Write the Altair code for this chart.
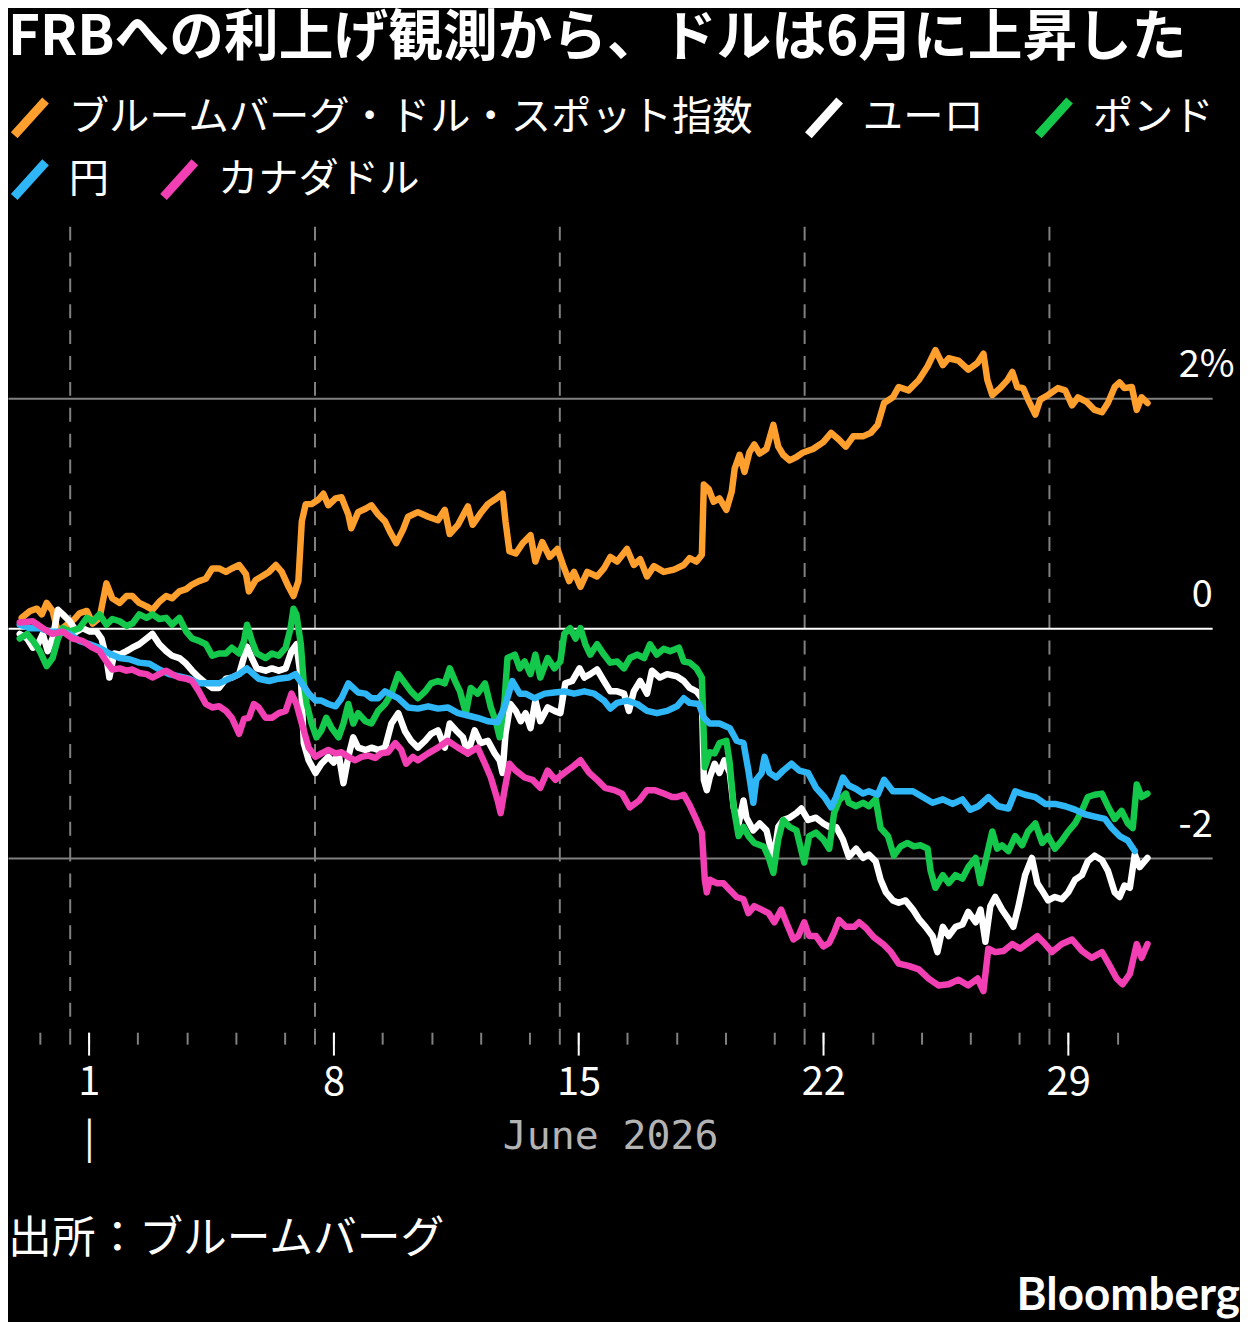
import altair as alt
import pandas as pd

TITLE = "FRBへの利上げ観測から、ドルは6月に上昇した"
SOURCE = "出所：ブルームバーグ"
BRAND = "Bloomberg"
X_TITLE = "June 2026"

series_names = ["ブルームバーグ・ドル・スポット指数", "ユーロ", "ポンド", "円", "カナダドル"]
series_colors = ["#ff9f2e", "#ffffff", "#14c84b", "#2fb6f6", "#f23fb4"]

# (business-day index since the week of June 1 began, % change)
usd_index = [(-0.98, 0.09), (-0.81, 0.15), (-0.67, 0.17), (-0.57, 0.12), (-0.47, 0.22), (-0.35, 0.15), (-0.24, -0.03), (-0.06, 0.03), (0.10, 0.08), (0.20, 0.13), (0.35, 0.15), (0.47, 0.04), (0.61, 0.09), (0.75, 0.39), (0.87, 0.26), (1.02, 0.22), (1.16, 0.28), (1.28, 0.28), (1.42, 0.22), (1.57, 0.19), (1.69, 0.16), (1.83, 0.23), (1.97, 0.28), (2.09, 0.26), (2.24, 0.32), (2.38, 0.34), (2.50, 0.38), (2.64, 0.41), (2.78, 0.43), (2.91, 0.52), (3.05, 0.52), (3.19, 0.49), (3.31, 0.52), (3.46, 0.55), (3.60, 0.47), (3.66, 0.32), (3.80, 0.42), (3.92, 0.45), (4.07, 0.49), (4.21, 0.55), (4.33, 0.49), (4.47, 0.36), (4.57, 0.28), (4.67, 0.41), (4.74, 0.93), (4.82, 1.08), (4.94, 1.08), (5.08, 1.12), (5.18, 1.17), (5.28, 1.07), (5.43, 1.13), (5.55, 1.14), (5.69, 0.99), (5.75, 0.87), (5.89, 1.01), (6.04, 1.04), (6.16, 1.07), (6.30, 0.99), (6.44, 0.93), (6.54, 0.84), (6.67, 0.74), (6.81, 0.86), (6.91, 0.97), (7.11, 1.01), (7.32, 0.97), (7.52, 0.94), (7.66, 1.03), (7.76, 0.82), (7.93, 0.90), (8.13, 1.06), (8.23, 0.90), (8.39, 1.00), (8.54, 1.08), (8.68, 1.12), (8.84, 1.17), (8.90, 0.93), (8.98, 0.67), (9.11, 0.65), (9.25, 0.74), (9.41, 0.81), (9.51, 0.58), (9.65, 0.75), (9.80, 0.62), (9.96, 0.69), (10.10, 0.52), (10.20, 0.41), (10.30, 0.49), (10.43, 0.36), (10.57, 0.49), (10.77, 0.45), (10.91, 0.52), (11.04, 0.62), (11.18, 0.58), (11.38, 0.69), (11.52, 0.55), (11.65, 0.60), (11.79, 0.45), (11.93, 0.54), (12.13, 0.49), (12.34, 0.51), (12.54, 0.55), (12.66, 0.61), (12.80, 0.58), (12.91, 0.64), (12.95, 1.25), (13.05, 1.21), (13.15, 1.10), (13.27, 1.13), (13.41, 1.03), (13.52, 1.19), (13.58, 1.39), (13.68, 1.51), (13.78, 1.36), (13.88, 1.53), (13.98, 1.60), (14.09, 1.52), (14.23, 1.56), (14.37, 1.77), (14.47, 1.58), (14.57, 1.51), (14.70, 1.46), (14.84, 1.49), (14.98, 1.53), (15.18, 1.56), (15.39, 1.62), (15.55, 1.70), (15.71, 1.64), (15.85, 1.58), (16.00, 1.67), (16.20, 1.67), (16.36, 1.70), (16.50, 1.77), (16.63, 1.96), (16.81, 2.01), (16.93, 2.10), (17.13, 2.07), (17.34, 2.16), (17.52, 2.28), (17.68, 2.42), (17.83, 2.29), (17.95, 2.35), (18.15, 2.33), (18.35, 2.25), (18.54, 2.31), (18.66, 2.39), (18.74, 2.16), (18.84, 2.03), (19.00, 2.09), (19.15, 2.16), (19.25, 2.23), (19.35, 2.10), (19.47, 2.09), (19.57, 1.99), (19.72, 1.86), (19.82, 1.99), (19.98, 2.03), (20.18, 2.09), (20.33, 2.07), (20.47, 1.94), (20.59, 2.01), (20.77, 1.97), (20.93, 1.90), (21.08, 1.88), (21.20, 1.96), (21.34, 2.10), (21.44, 2.14), (21.54, 2.09), (21.69, 2.10), (21.79, 1.90), (21.89, 2.01), (22.01, 1.96)]

eur = [(-1.02, -0.05), (-0.87, -0.09), (-0.75, -0.17), (-0.65, -0.14), (-0.55, -0.05), (-0.45, -0.20), (-0.35, -0.09), (-0.24, 0.16), (-0.14, 0.12), (0.0, 0.06), (0.14, -0.03), (0.26, 0.0), (0.41, -0.03), (0.55, -0.03), (0.65, -0.09), (0.75, -0.26), (0.81, -0.43), (0.91, -0.22), (1.02, -0.23), (1.16, -0.20), (1.28, -0.17), (1.42, -0.14), (1.57, -0.09), (1.69, -0.05), (1.83, -0.14), (1.97, -0.20), (2.09, -0.24), (2.24, -0.26), (2.38, -0.31), (2.50, -0.37), (2.64, -0.43), (2.78, -0.48), (2.91, -0.52), (3.05, -0.52), (3.19, -0.44), (3.31, -0.43), (3.46, -0.40), (3.62, -0.16), (3.72, -0.26), (3.82, -0.35), (4.00, -0.37), (4.13, -0.35), (4.27, -0.37), (4.41, -0.35), (4.53, -0.20), (4.63, -0.14), (4.72, -0.43), (4.78, -1.00), (4.88, -1.15), (5.02, -1.26), (5.14, -1.18), (5.28, -1.12), (5.39, -1.17), (5.49, -1.09), (5.59, -1.35), (5.69, -1.12), (5.79, -0.95), (5.89, -1.04), (6.04, -1.06), (6.16, -1.04), (6.30, -1.06), (6.44, -1.04), (6.57, -0.83), (6.71, -0.74), (6.85, -0.90), (6.97, -0.98), (7.11, -1.04), (7.26, -0.98), (7.38, -0.92), (7.52, -0.89), (7.66, -1.04), (7.76, -0.83), (7.89, -0.89), (8.03, -0.95), (8.13, -1.09), (8.27, -0.89), (8.39, -1.00), (8.54, -0.98), (8.68, -1.09), (8.78, -1.15), (8.84, -1.26), (8.90, -0.92), (9.00, -0.66), (9.11, -0.72), (9.21, -0.81), (9.31, -0.74), (9.41, -0.87), (9.51, -0.63), (9.61, -0.81), (9.76, -0.69), (9.90, -0.72), (10.02, -0.74), (10.12, -0.48), (10.26, -0.46), (10.41, -0.35), (10.51, -0.43), (10.63, -0.40), (10.77, -0.36), (10.91, -0.46), (11.04, -0.55), (11.18, -0.55), (11.32, -0.57), (11.42, -0.72), (11.52, -0.55), (11.65, -0.46), (11.79, -0.57), (11.89, -0.37), (12.05, -0.43), (12.20, -0.40), (12.40, -0.42), (12.54, -0.46), (12.66, -0.52), (12.80, -0.55), (12.91, -0.61), (12.95, -1.32), (13.01, -1.41), (13.07, -1.30), (13.17, -1.18), (13.27, -1.26), (13.37, -1.15), (13.48, -1.26), (13.56, -1.56), (13.66, -1.70), (13.76, -1.50), (13.82, -1.65), (13.96, -1.76), (14.09, -1.70), (14.23, -1.76), (14.37, -2.02), (14.47, -1.73), (14.57, -1.67), (14.70, -1.65), (14.84, -1.61), (14.94, -1.57), (15.08, -1.67), (15.24, -1.65), (15.39, -1.70), (15.51, -1.73), (15.65, -1.73), (15.79, -1.84), (15.91, -1.99), (16.06, -1.92), (16.20, -2.00), (16.32, -1.97), (16.46, -2.03), (16.56, -2.19), (16.67, -2.30), (16.81, -2.37), (16.93, -2.39), (17.07, -2.37), (17.22, -2.45), (17.34, -2.53), (17.48, -2.60), (17.62, -2.68), (17.72, -2.82), (17.83, -2.60), (17.95, -2.68), (18.09, -2.60), (18.23, -2.58), (18.35, -2.47), (18.50, -2.56), (18.60, -2.45), (18.70, -2.73), (18.80, -2.42), (18.90, -2.34), (19.04, -2.45), (19.17, -2.53), (19.27, -2.60), (19.37, -2.43), (19.51, -2.15), (19.65, -2.00), (19.76, -2.22), (19.88, -2.30), (19.98, -2.37), (20.12, -2.34), (20.26, -2.36), (20.39, -2.30), (20.53, -2.19), (20.67, -2.15), (20.79, -2.03), (20.93, -1.98), (21.08, -2.02), (21.20, -2.11), (21.34, -2.30), (21.44, -2.34), (21.54, -2.24), (21.65, -2.26), (21.75, -1.97), (21.85, -2.08), (21.95, -2.03), (22.01, -2.00)]

gbp = [(-1.02, -0.09), (-0.87, -0.05), (-0.75, -0.11), (-0.61, -0.20), (-0.47, -0.33), (-0.35, -0.26), (-0.24, -0.09), (-0.14, 0.0), (0.0, -0.03), (0.20, 0.0), (0.35, 0.09), (0.47, 0.06), (0.61, 0.12), (0.75, 0.03), (0.87, 0.08), (1.02, 0.06), (1.16, 0.02), (1.28, 0.04), (1.42, 0.12), (1.57, 0.09), (1.69, 0.12), (1.83, 0.08), (1.97, 0.09), (2.09, 0.03), (2.24, 0.09), (2.38, -0.03), (2.50, -0.09), (2.64, -0.11), (2.78, -0.14), (2.91, -0.24), (3.05, -0.22), (3.19, -0.22), (3.31, -0.17), (3.46, -0.22), (3.56, -0.11), (3.62, 0.03), (3.72, -0.11), (3.82, -0.22), (4.00, -0.26), (4.13, -0.22), (4.27, -0.24), (4.41, -0.17), (4.51, 0.0), (4.57, 0.17), (4.63, 0.12), (4.72, -0.14), (4.78, -0.48), (4.84, -0.66), (4.94, -0.83), (5.04, -0.95), (5.14, -0.89), (5.24, -0.78), (5.35, -0.87), (5.49, -0.95), (5.59, -0.83), (5.69, -0.66), (5.79, -0.83), (5.89, -0.74), (6.04, -0.81), (6.16, -0.83), (6.30, -0.72), (6.44, -0.66), (6.57, -0.57), (6.71, -0.40), (6.85, -0.48), (6.97, -0.55), (7.11, -0.61), (7.26, -0.55), (7.38, -0.48), (7.52, -0.46), (7.66, -0.48), (7.76, -0.35), (7.87, -0.46), (7.97, -0.55), (8.09, -0.74), (8.19, -0.52), (8.33, -0.57), (8.48, -0.48), (8.60, -0.69), (8.70, -0.81), (8.78, -0.95), (8.88, -0.63), (8.94, -0.26), (9.09, -0.23), (9.19, -0.35), (9.29, -0.29), (9.41, -0.40), (9.51, -0.23), (9.61, -0.43), (9.76, -0.26), (9.90, -0.35), (10.02, -0.29), (10.10, -0.05), (10.22, 0.0), (10.33, -0.09), (10.43, 0.0), (10.53, -0.14), (10.63, -0.23), (10.77, -0.14), (10.91, -0.23), (11.04, -0.30), (11.18, -0.29), (11.32, -0.35), (11.44, -0.26), (11.59, -0.23), (11.73, -0.26), (11.85, -0.14), (11.99, -0.23), (12.13, -0.18), (12.26, -0.20), (12.44, -0.17), (12.54, -0.29), (12.66, -0.30), (12.80, -0.35), (12.91, -0.43), (12.97, -1.21), (13.07, -1.08), (13.17, -1.09), (13.27, -1.00), (13.41, -0.98), (13.48, -1.18), (13.56, -1.56), (13.66, -1.81), (13.76, -1.73), (13.86, -1.81), (13.98, -1.87), (14.17, -1.90), (14.27, -1.99), (14.37, -2.13), (14.47, -1.84), (14.57, -1.67), (14.70, -1.73), (14.84, -1.76), (15.00, -2.04), (15.10, -1.81), (15.24, -1.78), (15.39, -1.84), (15.51, -1.92), (15.61, -1.61), (15.71, -1.50), (15.85, -1.44), (15.91, -1.52), (16.06, -1.55), (16.20, -1.52), (16.32, -1.55), (16.46, -1.49), (16.56, -1.74), (16.71, -1.81), (16.83, -1.98), (16.97, -1.90), (17.11, -1.87), (17.24, -1.90), (17.38, -1.89), (17.52, -1.92), (17.58, -2.11), (17.68, -2.26), (17.83, -2.15), (17.95, -2.22), (18.09, -2.15), (18.23, -2.18), (18.35, -2.08), (18.50, -2.00), (18.60, -2.22), (18.70, -2.03), (18.84, -1.77), (18.94, -1.92), (19.04, -1.89), (19.17, -1.94), (19.31, -1.81), (19.45, -1.89), (19.57, -1.77), (19.72, -1.70), (19.86, -1.87), (19.98, -1.81), (20.12, -1.92), (20.26, -1.85), (20.39, -1.77), (20.53, -1.70), (20.67, -1.59), (20.79, -1.47), (20.93, -1.45), (21.08, -1.44), (21.20, -1.55), (21.34, -1.66), (21.48, -1.59), (21.61, -1.70), (21.71, -1.74), (21.79, -1.36), (21.89, -1.47), (22.01, -1.44)]

jpy = [(-1.02, 0.03), (-0.81, 0.0), (-0.61, 0.0), (-0.41, -0.03), (-0.20, -0.03), (0.0, -0.05), (0.20, -0.11), (0.41, -0.14), (0.61, -0.17), (0.81, -0.22), (1.02, -0.26), (1.22, -0.27), (1.42, -0.30), (1.63, -0.31), (1.83, -0.36), (2.03, -0.40), (2.24, -0.42), (2.44, -0.44), (2.64, -0.48), (2.85, -0.48), (3.05, -0.48), (3.25, -0.44), (3.46, -0.40), (3.62, -0.35), (3.86, -0.44), (4.07, -0.46), (4.27, -0.44), (4.47, -0.43), (4.61, -0.40), (4.74, -0.48), (4.88, -0.57), (5.02, -0.63), (5.14, -0.63), (5.28, -0.66), (5.43, -0.68), (5.55, -0.61), (5.69, -0.48), (5.79, -0.52), (5.89, -0.56), (6.04, -0.57), (6.16, -0.61), (6.30, -0.61), (6.44, -0.55), (6.71, -0.61), (6.91, -0.69), (7.11, -0.70), (7.32, -0.68), (7.52, -0.70), (7.72, -0.69), (7.93, -0.74), (8.13, -0.76), (8.33, -0.78), (8.54, -0.81), (8.74, -0.82), (8.88, -0.69), (9.04, -0.46), (9.19, -0.57), (9.31, -0.57), (9.49, -0.61), (9.70, -0.57), (9.90, -0.56), (10.10, -0.55), (10.30, -0.57), (10.51, -0.55), (10.71, -0.57), (10.91, -0.63), (11.04, -0.70), (11.18, -0.65), (11.38, -0.63), (11.59, -0.66), (11.79, -0.72), (11.99, -0.74), (12.20, -0.72), (12.40, -0.68), (12.54, -0.61), (12.66, -0.65), (12.85, -0.66), (12.95, -0.78), (13.07, -0.83), (13.27, -0.83), (13.48, -0.87), (13.62, -0.98), (13.76, -1.00), (13.86, -1.24), (13.96, -1.52), (14.02, -1.32), (14.13, -1.26), (14.19, -1.12), (14.29, -1.26), (14.43, -1.30), (14.57, -1.24), (14.74, -1.18), (14.90, -1.24), (15.08, -1.26), (15.24, -1.39), (15.41, -1.47), (15.55, -1.56), (15.65, -1.47), (15.79, -1.30), (15.91, -1.37), (16.06, -1.40), (16.20, -1.44), (16.32, -1.42), (16.50, -1.45), (16.63, -1.32), (16.81, -1.42), (17.01, -1.42), (17.22, -1.42), (17.42, -1.47), (17.62, -1.52), (17.83, -1.49), (18.03, -1.53), (18.23, -1.49), (18.39, -1.58), (18.56, -1.55), (18.76, -1.47), (18.96, -1.55), (19.17, -1.57), (19.31, -1.42), (19.51, -1.45), (19.72, -1.47), (19.92, -1.53), (20.12, -1.53), (20.33, -1.55), (20.53, -1.58), (20.73, -1.62), (20.93, -1.64), (21.14, -1.66), (21.28, -1.74), (21.44, -1.81), (21.61, -1.85), (21.75, -1.94)]

cad = [(-1.02, 0.05), (-0.75, 0.06), (-0.55, 0.0), (-0.35, -0.05), (-0.14, -0.03), (0.06, -0.09), (0.26, -0.11), (0.47, -0.17), (0.61, -0.20), (0.75, -0.29), (0.87, -0.36), (1.02, -0.35), (1.16, -0.37), (1.28, -0.36), (1.42, -0.39), (1.57, -0.40), (1.69, -0.43), (1.83, -0.40), (1.97, -0.37), (2.09, -0.40), (2.24, -0.43), (2.38, -0.44), (2.50, -0.46), (2.64, -0.55), (2.78, -0.66), (2.91, -0.69), (3.05, -0.68), (3.19, -0.72), (3.31, -0.78), (3.46, -0.92), (3.56, -0.79), (3.66, -0.78), (3.76, -0.66), (3.86, -0.69), (4.00, -0.78), (4.13, -0.78), (4.27, -0.74), (4.41, -0.72), (4.53, -0.57), (4.63, -0.66), (4.74, -0.83), (4.88, -1.04), (5.02, -1.12), (5.14, -1.09), (5.28, -1.06), (5.43, -1.09), (5.55, -1.08), (5.69, -1.12), (5.83, -1.15), (5.96, -1.12), (6.10, -1.11), (6.24, -1.13), (6.36, -1.09), (6.50, -1.08), (6.65, -1.00), (6.77, -1.06), (6.87, -1.18), (7.01, -1.12), (7.11, -1.15), (7.32, -1.09), (7.52, -1.04), (7.72, -0.98), (7.93, -1.04), (8.13, -1.09), (8.33, -1.04), (8.48, -1.18), (8.60, -1.30), (8.74, -1.50), (8.80, -1.61), (8.88, -1.41), (8.98, -1.18), (9.11, -1.24), (9.29, -1.30), (9.45, -1.32), (9.61, -1.39), (9.76, -1.24), (9.92, -1.32), (10.10, -1.26), (10.26, -1.21), (10.43, -1.15), (10.61, -1.26), (10.77, -1.32), (10.93, -1.39), (11.12, -1.41), (11.28, -1.44), (11.44, -1.56), (11.63, -1.50), (11.79, -1.41), (11.95, -1.41), (12.13, -1.44), (12.30, -1.47), (12.40, -1.47), (12.54, -1.45), (12.66, -1.54), (12.80, -1.67), (12.91, -1.78), (12.97, -2.19), (13.01, -2.30), (13.07, -2.19), (13.21, -2.22), (13.35, -2.22), (13.48, -2.28), (13.62, -2.34), (13.76, -2.36), (13.86, -2.48), (13.98, -2.42), (14.13, -2.45), (14.27, -2.48), (14.39, -2.56), (14.53, -2.45), (14.67, -2.60), (14.78, -2.71), (14.88, -2.68), (15.00, -2.56), (15.10, -2.68), (15.24, -2.68), (15.39, -2.77), (15.51, -2.74), (15.61, -2.65), (15.71, -2.54), (15.85, -2.60), (16.02, -2.60), (16.12, -2.56), (16.26, -2.61), (16.42, -2.69), (16.61, -2.75), (16.77, -2.82), (16.93, -2.92), (17.13, -2.94), (17.34, -2.97), (17.54, -3.05), (17.74, -3.11), (17.95, -3.10), (18.15, -3.06), (18.35, -3.11), (18.54, -3.05), (18.66, -3.16), (18.76, -2.79), (18.90, -2.82), (19.07, -2.81), (19.25, -2.75), (19.41, -2.79), (19.57, -2.74), (19.76, -2.68), (19.92, -2.75), (20.06, -2.82), (20.26, -2.75), (20.47, -2.71), (20.67, -2.81), (20.87, -2.87), (21.08, -2.82), (21.24, -2.94), (21.38, -3.05), (21.50, -3.10), (21.65, -3.01), (21.79, -2.75), (21.89, -2.87), (22.01, -2.75)]

# axis positions (business-day index)
week_starts = [0, 5, 10, 15, 20]
monday_labels = ["1", "8", "15", "22", "29"]
day_offset = 0.39
weekday_ticks = [k + day_offset for k in range(-1, 22)]
monday_ticks = [w + day_offset for w in week_starts]
y_labels = {2: "2%", 0: "0", -2: "-2"}

rows = []
for name, pts in zip(series_names, [usd_index, eur, gbp, jpy, cad]):
    for t, v in pts:
        rows.append({"series": name, "t": t, "v": v})
df = pd.DataFrame(rows)
df_row1 = df[df["series"].isin(series_names[:3])]
df_row2 = df[df["series"].isin(series_names[3:])]

FONT = "Noto Sans CJK JP"
W, H = 1210, 808
xscale = alt.Scale(domain=[-1.26, 23.33], nice=False, zero=False)
yscale = alt.Scale(domain=[-3.5, 3.5], nice=False, zero=False)
GRID = "#808080"

label_js = "[" + ",".join(f"'{s}'" for s in monday_labels) + "]"
major_expr = (f"datum.value < 1 ? ['{monday_labels[0]}', '|'] : "
              f"{label_js}[round((datum.value - {day_offset}) / 5)]")

major_axis = alt.Axis(orient="bottom", values=monday_ticks, labelExpr=major_expr, domain=False,
                      grid=False, ticks=True, tickColor="white", tickWidth=2, tickSize=23,
                      offset=2, labelColor="white", labelFont=FONT, labelFontSize=40,
                      labelPadding=8, labelLineHeight=57, labelFlush=False, labelOverlap=False,
                      title=X_TITLE, titleFont="DejaVu Sans Mono", titleFontSize=40,
                      titleFontWeight="normal", titleColor="#b3b3b3", titleY=105,
                      titleBaseline="middle")
minor_axis = alt.Axis(orient="bottom", values=weekday_ticks, labels=False, domain=False,
                      grid=False, ticks=True, tickColor=GRID, tickWidth=2, tickSize=12,
                      offset=2, title=None)
week_axis = alt.Axis(orient="bottom", values=week_starts, labels=False, domain=False, grid=True,
                     gridDash=[14, 12], gridColor=GRID, gridWidth=2, ticks=True,
                     tickColor=GRID, tickWidth=2, tickSize=14, title=None)

low_vals = [0, -2]
y_axis_main = alt.Axis(orient="right", values=low_vals,
                       labelExpr=f"datum.value == 0 ? '{y_labels[0]}' : '{y_labels[-2]}'",
                       grid=True,
                       gridColor={"condition": {"test": "datum.value === 0", "value": "#ffffff"}, "value": GRID},
                       gridWidth=2, ticks=False, tickSize=0, domain=False,
                       labelAlign="right", labelBaseline="alphabetic", labelOffset=-22,
                       labelPadding=0, labelFont=FONT, labelFontSize=38, labelColor="white",
                       title=None)
y_axis_upper = alt.Axis(orient="right", values=[2], labelExpr=f"'{y_labels[2]}'",
                        grid=True, gridColor=GRID, gridWidth=2, ticks=False, tickSize=0,
                        domain=False, labelAlign="right", labelBaseline="alphabetic",
                        labelOffset=-22, labelPadding=22, labelFont=FONT, labelFontSize=38,
                        labelColor="white", title=None)


def make_legend(y):
    return alt.Legend(title=None, orient="none", legendX=0, legendY=y, direction="horizontal",
                      symbolType="M-0.9,1L0.9,-1", symbolSize=1225, symbolStrokeWidth=9,
                      labelFont=FONT, labelFontSize=40.5, labelColor="white", labelLimit=0,
                      labelOffset=17, columnPadding=36, padding=0)


week_layer = alt.Chart(df).mark_point(opacity=0).encode(
    x=alt.X("t:Q", scale=xscale, axis=week_axis),
    y=alt.Y("v:Q", scale=yscale, axis=None),
)
minor_layer = alt.Chart(df).mark_point(opacity=0).encode(
    x=alt.X("t:Q", scale=xscale, axis=minor_axis),
    y=alt.Y("v:Q", scale=yscale, axis=y_axis_upper),
)
lines_a = alt.Chart(df_row1).mark_line(strokeWidth=6.5, strokeJoin="round", strokeCap="round").encode(
    x=alt.X("t:Q", scale=xscale, axis=major_axis),
    y=alt.Y("v:Q", scale=yscale, axis=y_axis_main),
    color=alt.Color("series:N", scale=alt.Scale(domain=series_names[:3], range=series_colors[:3]),
                    legend=make_legend(-131)),
)
lines_b = alt.Chart(df_row2).mark_line(strokeWidth=6.5, strokeJoin="round", strokeCap="round").encode(
    x=alt.X("t:Q", scale=xscale, axis=None),
    y=alt.Y("v:Q", scale=yscale, axis=None),
    color=alt.Color("series:N", scale=alt.Scale(domain=series_names[3:], range=series_colors[3:]),
                    legend=make_legend(-69)),
)
footer = alt.Chart(pd.DataFrame({"text": [SOURCE]})).mark_text(
    align="left", baseline="middle", font=FONT, fontSize=44, color="white"
).encode(text="text:N", x=alt.value(0), y=alt.value(1019))
brand = alt.Chart(pd.DataFrame({"text": [BRAND]})).mark_text(
    align="right", baseline="alphabetic", font="Lato", fontSize=46, fontWeight="bold", color="white"
).encode(text="text:N", x=alt.value(1238), y=alt.value(1089))

chart = alt.layer(week_layer, minor_layer, lines_a, lines_b, footer, brand).resolve_axis(
    x="independent", y="independent"
).resolve_scale(color="independent").properties(
    width=W, height=H, background="black",
    padding={"top": 0, "left": 0, "right": 0, "bottom": 0},
    title=alt.TitleParams(TITLE, anchor="start", font=FONT, fontSize=55, fontWeight="bold",
                          color="white", offset=29),
).configure_view(stroke=None)

chart.save("out.html", embed_options={"renderer": "svg", "actions": False})
